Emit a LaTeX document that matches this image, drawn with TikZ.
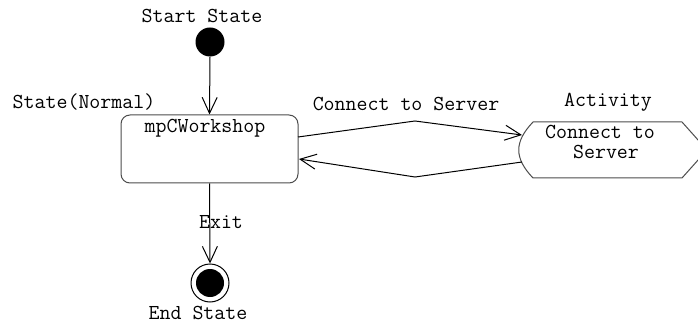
\documentclass[tikz,border=0pt]{standalone}
\usepackage{fontspec}
\usetikzlibrary{arrows.meta}
\begin{document}
\begin{tikzpicture}[x=1pt,y=-1pt,
  every node/.style={font=\ttfamily\fontsize{21.3}{25}\selectfont, inner sep=0pt},
  lbl/.style={anchor=center},
  conn/.style={line width=1pt, -{Straight Barb[length=16pt,width=15pt,line width=1pt]}},
  shapeline/.style={line width=1pt, draw=black!70}]
\path[use as bounding box] (0,0) rectangle (698,323);

% labels
\node[lbl] (tStart) at (202,16) {Start State};
\node[lbl] (tNormal) at (84,102) {State(Normal)};
\node[lbl] (tConn) at (406,104) {Connect to Server};
\node[lbl] (tAct) at (608,102) {Activity};
\node[lbl] (tExit) at (221,222) {Exit};
\node[lbl] (tEnd) at (198,313) {End State};

% start state
\node[circle, fill=black, minimum size=29pt] (start) at (210,42) {};

% main state box
\node[shapeline, draw, rectangle, rounded corners=9pt, minimum width=177pt, minimum height=68pt] (box) at (209.5,149) {};
\node[lbl] (tBox) at (205,128) {mpCWorkshop};

% activity
\draw[shapeline] (533,122) -- (682,122) -- (707,150) -- (682,178) -- (533,178)
  .. controls (514,158) and (514,142) .. cycle;
\node[minimum width=188pt, minimum height=56pt] (act) at (612,150) {};
\node[lbl] (tAct1) at (600,132) {Connect to};
\node[lbl] (tAct2) at (606,152) {Server};

% end state
\node[circle, draw, line width=1pt, minimum size=38pt] (end) at (210,283) {};
\node[circle, fill=black, minimum size=28pt] (endin) at (end.center) {};

% connector points
\coordinate (boxout) at (298,137);
\coordinate (peakA) at (415,121);
\coordinate (actin) at (522,135);
\coordinate (actout) at (522,162);
\coordinate (peakB) at (415,177);
\coordinate (boxin) at (299,159);

% connectors
\draw[conn] (start.south) -- (box.north);
\draw[conn] (box.south) -- (end.north);
\draw[conn] (boxout) -- (peakA) -- (actin);
\draw[conn] (actout) -- (peakB) -- (boxin);
\end{tikzpicture}
\end{document}
